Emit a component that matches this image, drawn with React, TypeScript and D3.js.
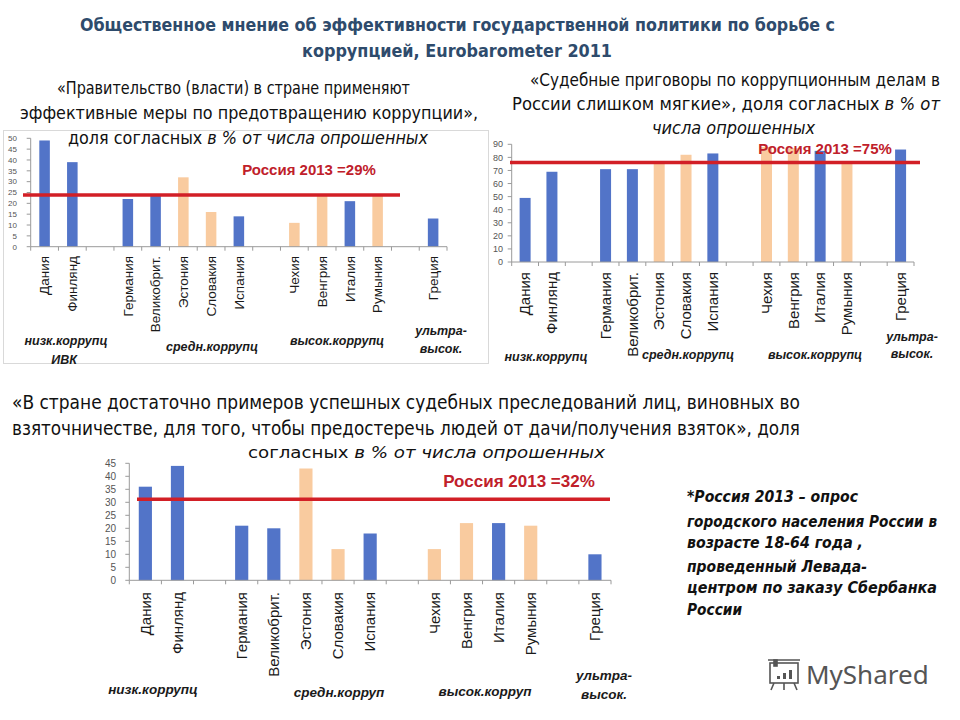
import React from 'react';
import * as d3 from 'd3';

// slots with empty gaps between corruption groups
const countries = ['Дания', 'Финлянд', '', 'Германия', 'Великобрит.', 'Эстония', 'Словакия', 'Испания', '', 'Чехия', 'Венгрия', 'Италия', 'Румыния', '', 'Греция'];
const barKind = ['b', 'b', '', 'b', 'b', 'p', 'p', 'b', '', 'p', 'p', 'b', 'p', '', 'b'];

// % agreeing, Eurobarometer 2011
const govEffective = [49, 39, null, 22, 24, 32, 16, 14, null, 11, 24, 21, 24, null, 13];
const courtsSoft = [49, 69, null, 71, 71, 77, 82, 83, null, 88, 87, 85, 77, null, 86];
const enoughCases = [36, 44, null, 21, 20, 43, 12, 18, null, 12, 22, 22, 21, null, 10];

const ticks1 = [0, 5, 10, 15, 20, 25, 30, 35, 40, 45, 50];
const ticks2 = [0, 10, 20, 30, 40, 50, 60, 70, 80, 90];
const ticks3 = [0, 5, 10, 15, 20, 25, 30, 35, 40, 45];

// Russia 2013 reference lines (where they are drawn) and labels
const russiaLine = [23.8, 76, 31.2];
const russiaLabel = ['Россия 2013 =29%', 'Россия 2013 =75%', 'Россия 2013 =32%'];

const groups1 = ['низк.коррупц', 'ИВК', 'средн.коррупц', 'высок.коррупц', 'ультра-', 'высок.'];
const groups3 = ['низк.коррупц', 'средн.корруп', 'высок.корруп', 'ультра-', 'высок.'];

const noteLines = [
  '*Россия 2013 – опрос',
  'городского населения России в',
  'возрасте 18-64 года ,',
  'проведенный Левада-',
  'центром по заказу Сбербанка',
  'России',
];

const BLUE = '#5274C8';
const PEACH = '#F9CB9F';
const RED = '#D21F26';
const NARROW = "'Liberation Sans Narrow', 'DejaVu Sans Condensed', 'Liberation Sans', sans-serif";
const SANS = "'Liberation Sans', 'DejaVu Sans', sans-serif";

interface Layout {
  x0: number; x1: number; yZero: number; yTop: number; yMax: number;
  tickX: number; tickFont: number; labelTop: number; labelFont: number; barRatio: number;
  lineX0: number; lineX1: number; refX: number; refY: number; refFont: number;
  groupFont: number; groupPos: [number, number][];
}

const Chart: React.FC<{ values: (number | null)[]; ticks: number[]; refValue: number; refText: string; groupNames: string[]; lay: Layout }> = ({ values, ticks, refValue, refText, groupNames, lay }) => {
  const idx = countries.map((_, i) => String(i));
  const x = d3.scaleBand<string>().domain(idx).range([lay.x0, lay.x1]);
  const y = d3.scaleLinear().domain([0, lay.yMax]).range([lay.yZero, lay.yTop]);
  const bw = x.bandwidth() * lay.barRatio;
  const bounds = d3.range(countries.length + 1).map(i => lay.x0 + i * x.step());
  return (
    <g>
      {values.map((v, i) => v == null ? null : (
        <rect key={i} x={(x(String(i)) as number) + (x.bandwidth() - bw) / 2} y={y(v)} width={bw} height={y(0) - y(v)}
          fill={barKind[i] === 'b' ? BLUE : PEACH} />
      ))}
      {/* axes */}
      <line x1={lay.x0} x2={lay.x0} y1={y(lay.yMax)} y2={y(0)} stroke="#9a9a9a" />
      <line x1={lay.x0} x2={lay.x1} y1={y(0)} y2={y(0)} stroke="#9a9a9a" />
      {ticks.map(t => (
        <g key={t}>
          <line x1={lay.x0 - 4} x2={lay.x0} y1={y(t)} y2={y(t)} stroke="#9a9a9a" />
          <text x={lay.tickX} y={y(t)} dy="0.35em" textAnchor="end" fontSize={lay.tickFont} fill="#555" fontFamily={SANS}>{t}</text>
        </g>
      ))}
      {bounds.map((b, i) => <line key={i} x1={b} x2={b} y1={y(0)} y2={y(0) + 4} stroke="#9a9a9a" />)}
      {countries.map((c, i) => c ? (
        <text key={i} transform={`translate(${(x(String(i)) as number) + x.bandwidth() / 2},${lay.labelTop}) rotate(-90)`}
          dy="0.35em" textAnchor="end" fontSize={lay.labelFont} fill="#1a1a1a" fontFamily={SANS}>{c}</text>
      ) : null)}
      <line x1={lay.lineX0} x2={lay.lineX1} y1={y(refValue)} y2={y(refValue)} stroke={RED} strokeWidth={3.5} />
      <text x={lay.refX} y={lay.refY} textAnchor="middle" fontSize={lay.refFont} fontWeight="bold" fill="#C0202A" fontFamily={SANS}>{refText}</text>
      {groupNames.map((g, i) => (
        <text key={i} x={lay.groupPos[i][0]} y={lay.groupPos[i][1]} textAnchor="middle" fontSize={lay.groupFont}
          fontWeight="bold" fontStyle="italic" fill="#1a1a1a" fontFamily={SANS}>{g}</text>
      ))}
    </g>
  );
};

const lay1: Layout = {
  x0: 30.7, x1: 447, yZero: 246.7, yTop: 138.3, yMax: 50, tickX: 17, tickFont: 8, labelTop: 256, labelFont: 13.5, barRatio: 0.38,
  lineX0: 23, lineX1: 400, refX: 309, refY: 175, refFont: 15, groupFont: 12.5,
  groupPos: [[66, 345], [64, 364], [212, 351], [337, 345], [441, 335], [441, 353]],
};
const lay2: Layout = {
  x0: 511.7, x1: 914, yZero: 262, yTop: 144.3, yMax: 90, tickX: 503, tickFont: 9, labelTop: 272, labelFont: 15, barRatio: 0.41,
  lineX0: 510, lineX1: 920, refX: 825, refY: 154, refFont: 15, groupFont: 12.5,
  groupPos: [[546, 361], [580, 361], [688, 359], [815, 359], [912, 341], [912, 358]],
};
const lay3: Layout = {
  x0: 129.3, x1: 611, yZero: 580.3, yTop: 463.3, yMax: 45, tickX: 116, tickFont: 10, labelTop: 592, labelFont: 15, barRatio: 0.41,
  lineX0: 137, lineX1: 610, refX: 519, refY: 487, refFont: 17, groupFont: 13.5,
  groupPos: [[153, 694], [339, 697], [485, 696], [604, 680], [604, 699]],
};

const Fit: React.FC<{ x: number; y: number; w: number; size: number; children: React.ReactNode; bold?: boolean; italic?: boolean; fill?: string; anchor?: string }> = ({ x, y, w, size, children, bold, italic, fill, anchor }) => (
  <text x={x} y={y} textLength={w} lengthAdjust="spacingAndGlyphs" fontSize={size} fontFamily={NARROW}
    fontWeight={bold ? 'bold' : 'normal'} fontStyle={italic ? 'italic' : 'normal'} fill={fill || '#111'} textAnchor={anchor || 'start'}>
    {children}
  </text>
);

export default function App() {
  return (
    <svg width={960} height={720} style={{ position: 'absolute', left: 0, top: 0, background: '#fff' }}>
      <rect width={960} height={720} fill="#fff" />
      {/* title */}
      <Fit x={80} y={31} w={755} size={18} bold fill="#2E4B6C">Общественное мнение об эффективности государственной политики по борьбе с</Fit>
      <Fit x={302} y={57} w={310} size={18} bold fill="#2E4B6C">коррупцией,  Eurobarometer 2011</Fit>

      {/* chart 1 */}
      <rect x={3.5} y={130.5} width={485} height={233} fill="none" stroke="#d9d9d9" />
      <Chart values={govEffective} ticks={ticks1} refValue={russiaLine[0]} refText={russiaLabel[0]} groupNames={groups1} lay={lay1} />
      <Fit x={57} y={94} w={353} size={18}>«Правительство (власти) в стране применяют</Fit>
      <Fit x={20} y={119} w={458} size={18}>эффективные меры по предотвращению коррупции»,</Fit>
      <Fit x={68} y={144} w={360} size={18}>доля согласных <tspan fontStyle="italic">в % от числа опрошенных</tspan></Fit>

      {/* chart 2 */}
      <Chart values={courtsSoft} ticks={ticks2} refValue={russiaLine[1]} refText={russiaLabel[1]}
        groupNames={['низк.коррупц', '', 'средн.коррупц', 'высок.коррупц', 'ультра-', 'высок.']} lay={lay2} />
      <Fit x={530} y={86} w={410} size={17}>«Судебные приговоры по коррупционным делам в</Fit>
      <Fit x={512} y={110} w={428} size={17}>России слишком мягкие»,  доля согласных <tspan fontStyle="italic">в % от</tspan></Fit>
      <Fit x={652} y={134} w={163} size={17} italic>числа опрошенных</Fit>

      {/* chart 3 */}
      <Fit x={12} y={409} w={788} size={19}>«В стране достаточно примеров успешных судебных преследований лиц, виновных во</Fit>
      <Fit x={12} y={435} w={788} size={19}>взяточничестве,  для того, чтобы предостеречь людей от дачи/получения взяток», доля</Fit>
      <Fit x={248} y={458} w={357} size={16}>согласных <tspan fontStyle="italic">в % от числа опрошенных</tspan></Fit>
      <Chart values={enoughCases} ticks={ticks3} refValue={russiaLine[2]} refText={russiaLabel[2]} groupNames={groups3} lay={lay3} />

      {/* note */}
      {noteLines.map((l, i) => {
        const widths = [171, 250, 176, 180, 250, 55];
        const ys = [502, 527, 548, 572, 593, 615];
        return <Fit key={i} x={687} y={ys[i]} w={widths[i]} size={16} bold italic>{l}</Fit>;
      })}

      {/* watermark */}
      <g stroke="#555" strokeWidth={1.6} fill="none">
        <rect x={770} y={663} width={28} height={20} />
        <path d="M768 660 h32 M774 683 l-3 7 M784 683 v7 M794 683 l3 7" />
        <rect x={774} y={660} width={3} height={6} fill="#555" />
      </g>
      <g fill="#555">
        <rect x={777} y={676} width={3} height={3} />
        <rect x={783} y={673} width={3} height={6} />
        <rect x={789} y={670} width={3} height={9} />
      </g>
      <text x={806} y={684} fontSize={26} fill="#555" fontFamily="'Noto Sans', 'Open Sans', sans-serif">MyShared</text>
    </svg>
  );
}
